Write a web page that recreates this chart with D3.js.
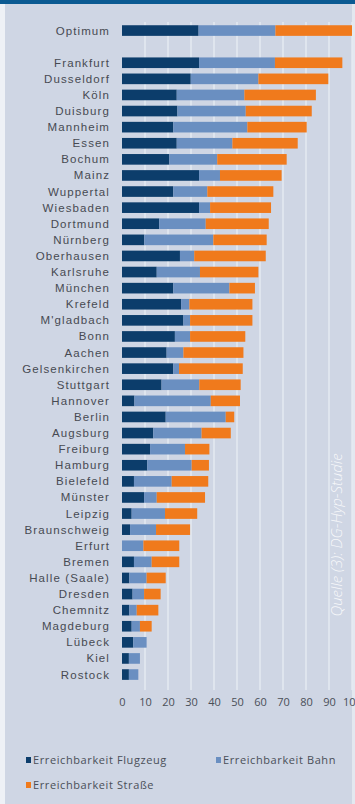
<!DOCTYPE html>
<html><head><meta charset="utf-8">
<script src="https://cdn.jsdelivr.net/npm/d3@7"></script>
<style>html,body{margin:0;padding:0;background:#cfd6e4;}svg{display:block;}</style>
</head><body>
<script>
const categories = ["Optimum","","Frankfurt","Dusseldorf","Köln","Duisburg","Mannheim","Essen","Bochum","Mainz","Wuppertal","Wiesbaden","Dortmund","Nürnberg","Oberhausen","Karlsruhe","München","Krefeld","M'gladbach","Bonn","Aachen","Gelsenkirchen","Stuttgart","Hannover","Berlin","Augsburg","Freiburg","Hamburg","Bielefeld","Münster","Leipzig","Braunschweig","Erfurt","Bremen","Halle (Saale)","Dresden","Chemnitz","Magdeburg","Lübeck","Kiel","Rostock"];
const flugzeug = [33.3,0,33.5,29.9,23.8,24.1,22.3,23.8,20.6,33.5,22.3,33.5,16.2,9.7,25.2,15.1,22.3,25.7,26.7,23.0,19.4,22.3,17.2,5.4,19.0,13.6,12.2,11.0,5.2,9.6,4.2,3.5,0,5.2,3.2,4.6,3.2,4.2,4.9,3.0,3.0];
const bahn = [33.4,0,33.0,29.4,29.4,29.7,32.2,24.2,20.8,9.1,14.8,4.8,20.2,30.0,6.2,18.8,24.4,3.6,2.9,6.6,7.3,2.5,16.4,33.2,26.1,21.0,15.2,19.3,16.4,5.5,14.5,11.3,9.3,7.7,7.5,5.0,3.2,3.6,5.8,4.8,4.1];
const strasse = [33.3,0,29.3,30.4,31.1,28.7,25.8,28.4,30.2,26.8,28.7,26.5,27.4,23.2,31.1,25.4,11.1,27.4,27.1,24.0,26.1,27.7,18.0,12.7,3.7,12.7,10.6,7.5,15.9,21.0,14.0,14.8,15.6,12.0,8.3,7.2,9.4,5.1,0,0,0];
const ticks = [0,10,20,30,40,50,60,70,80,90,100];
const tickLabels = ["0","10","20","30","40","50","60","70","80","90","100"];
const seriesNames = ["Erreichbarkeit Flugzeug","Erreichbarkeit Bahn","Erreichbarkeit Straße"];
const colors = ["#0c3d6b","#6a8fc1","#f07a1c"];

const W = 355, H = 804;
const svg = d3.select("body").append("svg").attr("width",W).attr("height",H);
svg.append("rect").attr("width",W).attr("height",H).attr("fill","#cfd6e4");
svg.append("rect").attr("x",0).attr("y",0).attr("width",5).attr("height",H).attr("fill","#eef1f6");
svg.append("rect").attr("x",352).attr("y",0).attr("width",3).attr("height",H).attr("fill","#e3e8f0");
svg.append("rect").attr("x",0).attr("y",0).attr("width",W).attr("height",4).attr("fill","#0b5a92");

const x = d3.scaleLinear().domain([0,100]).range([122,352]);
const y = d3.scaleBand().domain(categories).range([22.5,682.6]).paddingInner(0.34).paddingOuter(0.17);

// gridlines
svg.append("g").selectAll("line").data(ticks.slice(1)).join("line")
  .attr("x1",d=>x(d)).attr("x2",d=>x(d)).attr("y1",22).attr("y2",690)
  .attr("stroke","#e6ebf3").attr("stroke-width",1.4);

const rows = categories.map((c,i)=>({c, v:[flugzeug[i],bahn[i],strasse[i]]})).filter(r=>r.c!=="");
const g = svg.append("g");
rows.forEach(r=>{
  let acc = 0;
  r.v.forEach((v,k)=>{
    if(v>0){
      g.append("rect").attr("x",x(acc)).attr("y",y(r.c)).attr("width",x(acc+v)-x(acc))
       .attr("height",y.bandwidth()).attr("fill",colors[k]);
    }
    acc += v;
  });
});

// category labels
const yAxis = d3.axisLeft(y).tickSize(0).tickPadding(0).tickFormat(d=>d);
const ya = svg.append("g").attr("transform","translate(110,0)").call(yAxis);
ya.select(".domain").remove();
ya.selectAll("text").attr("font-family","'Liberation Sans', Arial, sans-serif").attr("font-size",11.5)
  .attr("letter-spacing","1.1px").attr("fill","#474a52").attr("dy","0.35em");

// x tick labels
const xAxis = d3.axisBottom(x).tickValues(ticks).tickSize(0).tickPadding(0).tickFormat((d,i)=>tickLabels[i]);
const xa = svg.append("g").attr("transform","translate(0,698)").call(xAxis);
xa.select(".domain").remove();
xa.selectAll("text").attr("font-family","'Open Sans', sans-serif").attr("font-size",11)
  .attr("fill","#4a4f58").attr("dy","0.7em");

// source note
svg.append("text").attr("transform","translate(342,535) rotate(-90)")
  .attr("text-anchor","middle").attr("font-family","'Open Sans', sans-serif").attr("font-style","italic")
  .attr("font-weight",300).attr("font-size",15).attr("fill","#ffffff").attr("fill-opacity",0.85)
  .text("Quelle (3): DG-Hyp-Studie");

// legend
const legendPos = [[26,760],[216,760],[26,785]];
seriesNames.forEach((n,i)=>{
  const lg = svg.append("g").attr("transform",`translate(${legendPos[i][0]},${legendPos[i][1]})`);
  lg.append("rect").attr("x",0).attr("y",-3).attr("width",5).attr("height",6).attr("fill",colors[i]);
  lg.append("text").attr("x",7).attr("y",0).attr("dy","0.35em").attr("font-family","'Open Sans', sans-serif")
    .attr("font-size",11).attr("letter-spacing","0.6px").attr("fill","#4a4f58").text(n);
});
</script>
</body></html>
